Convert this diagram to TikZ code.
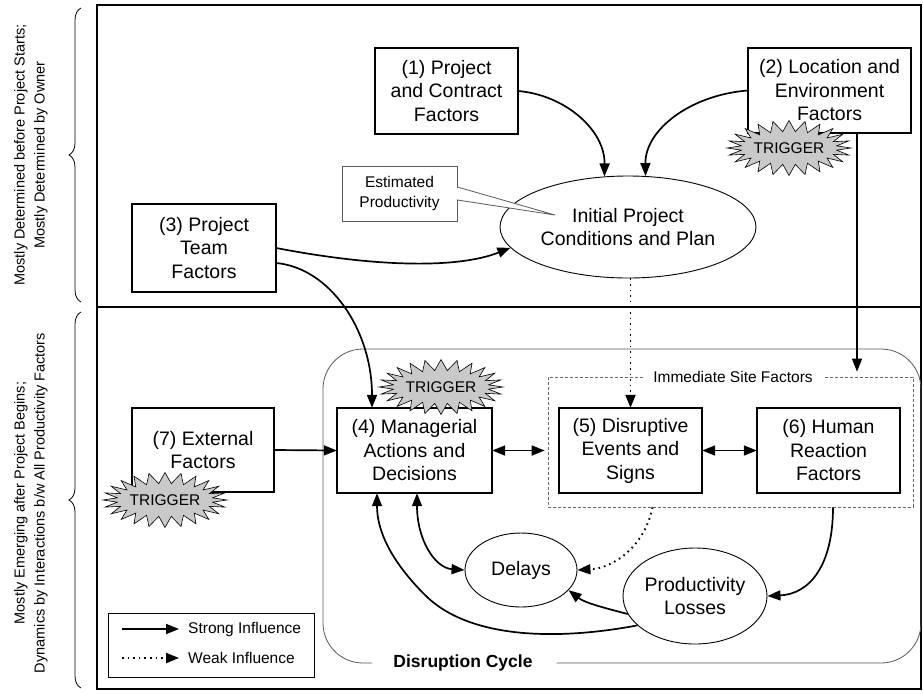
\documentclass[tikz,border=0pt]{standalone}
\usepackage{fontspec}
\setmainfont{Liberation Sans}
\usetikzlibrary{arrows.meta,decorations.pathreplacing,shapes.geometric,calc}

% box frames sit below the starbursts, which sit below all text
\pgfdeclarelayer{frames}
\pgfdeclarelayer{bursts}
\pgfsetlayers{frames,bursts,main}

% starburst with a label at its centre
\newcommand\burstat[2]{%
  \begin{scope}[shift={#1}]
    \begin{pgfonlayer}{bursts}
      \draw[burst] plot[samples at={0,7.5,...,352.5}]
        ({(62-14*mod(round(\x/7.5),2))*cos(\x)},{(27.5-11*mod(round(\x/7.5),2))*sin(\x)}) -- cycle;
    \end{pgfonlayer}
    \node[small, inner sep=0pt] (#2) at (0,0) {TRIGGER};
  \end{scope}}

\begin{document}
\begin{tikzpicture}[x=1pt,y=-1pt,
  boxtext/.style={align=center, inner sep=0pt, font=\fontsize{19.5}{23.5}\selectfont},
  frame/.style={draw, line width=2pt},
  oval/.style={ellipse, draw, line width=0.9pt, inner sep=0pt, align=center,
    font=\fontsize{19.5}{23.5}\selectfont},
  strong/.style={line width=1.7pt, -{Triangle[length=13pt,width=10pt]}},
  both/.style={line width=1.7pt, {Triangle[length=13pt,width=10pt]}-{Triangle[length=13pt,width=10pt]}},
  weak/.style={line width=1.9pt, dash pattern=on 1.6pt off 4pt, -{Triangle[length=13pt,width=10pt]}},
  small/.style={font=\fontsize{15.5}{20}\selectfont},
  burst/.style={draw, line width=0.6pt, fill=gray!42},
  thin gray/.style={draw=black!65, line width=0.8pt},
]
\useasboundingbox (0,0) rectangle (923,694);

% outer frame and the divider between the two phases
\draw[line width=1.3pt] (97,5) rectangle (921,689);
\draw[line width=1.3pt] (97,307) -- (921,307);

% side notes with braces
\draw[line width=0.8pt, decorate, decoration={brace, amplitude=12pt}] (81,302) -- (81,8);
\draw[line width=0.8pt, decorate, decoration={brace, amplitude=12pt}] (81,688) -- (81,312);
\node[rotate=90, align=center, font=\fontsize{14.5}{20}\selectfont] (topnote) at (31,155)
  {Mostly Determined before Project Starts;\\Mostly Determined by Owner};
\node[rotate=90, align=center, font=\fontsize{14.5}{20}\selectfont] (botnote) at (31,503)
  {Mostly Emerging after Project Begins;\\Dynamics by Interactions b/w All Productivity Factors};

% disruption cycle outline
\node[font=\bfseries\fontsize{17.5}{20}\selectfont, inner sep=0pt] (cyc) at (463,663) {Disruption Cycle};
\draw[thin gray, rounded corners=40pt] ([xshift=24pt]cyc.east) -- (921,663) -- (921,349)
  -- (323,349) -- (323,663) -- (372,663);

% immediate site factors group
\node[draw=black!60, dash pattern=on 3pt off 2pt, line width=0.7pt, minimum width=365pt,
  minimum height=130pt, inner sep=0pt] (site) at (730.5,442) {};
\node[small, fill=white, inner xsep=10pt, inner ysep=2pt] (sitelbl) at (733,377) {Immediate Site Factors};

% factor boxes
\node[boxtext, minimum width=143pt, minimum height=86pt] (n1) at (446.5,91) {(1) Project\\and Contract\\Factors};
\node[boxtext, minimum width=163pt, minimum height=85pt] (n2) at (829.5,90.5) {(2) Location and\\Environment\\Factors};
\node[boxtext, minimum width=144pt, minimum height=88pt] (n3) at (204,248) {(3) Project\\Team\\Factors};
\node[boxtext, minimum width=155pt, minimum height=85pt] (n4) at (414.5,450.5) {(4) Managerial\\Actions and\\Decisions};
\node[boxtext, minimum width=143pt, minimum height=85pt] (n5) at (630.5,450.5) {(5) Disruptive\\Events and\\Signs};
\node[boxtext, minimum width=143pt, minimum height=85pt] (n6) at (828.5,450.5) {(6) Human\\Reaction\\Factors};
\node[boxtext, minimum width=142pt, minimum height=84pt] (n7) at (203,450) {(7) External\\Factors};
\begin{pgfonlayer}{frames}
  \foreach \b in {n1,n2,n3,n4,n5,n6,n7}
    \draw[frame] (\b.south west) rectangle (\b.north east);
\end{pgfonlayer}

% triggers
\burstat{(789,148)}{trig2}
\burstat{(441,387)}{trig4}
\burstat{(165,500)}{trig7}

% ovals
\node[oval, minimum width=256pt, minimum height=102pt] (plan) at (628,227) {Initial Project\\Conditions and Plan};
\node[oval, minimum width=112pt, minimum height=74pt] (delays) at (521,570) {Delays};
\node[oval, minimum width=144pt, minimum height=96pt] (losses) at (695,596) {Productivity\\Losses};

% callout
\node[thin gray, minimum width=115pt, minimum height=55pt, inner sep=0pt, align=center, small]
  (est) at (399.5,193.5) {Estimated\\Productivity};
\coordinate (esttip) at (555,215);
\fill[white] ([xshift=-0.8pt,yshift=6pt]est.east) -- (esttip) -- ([xshift=-0.8pt,yshift=-6pt]est.east) -- cycle;
\draw[black!65, line width=0.8pt] ([yshift=6.5pt]est.east) -- (esttip) -- ([yshift=-6.5pt]est.east);

% influences
\draw[strong] (n1.east) .. controls (565,95) and (605,130) .. (plan.115);
\draw[strong] (n2.west) .. controls (690,95) and (645,130) .. (plan.71);
\draw[strong] (n3.east) .. controls (380,268) and (460,268) .. (plan.190);
\draw[strong] ([yshift=-15pt]n3.east) .. controls (330,268) and (372,330) .. ([xshift=-42.5pt]n4.north);
\draw[strong] (n7.east) -- (n4.west);
\draw[both, shorten >=3pt] (n4.east) -- (n4.east -| site.west);
\draw[both] (n5.east) -- (n6.west);
\coordinate (drop) at (857,0);
\draw[strong] (drop |- n2.south) -- ([yshift=5pt]drop |- site.north);
\draw[weak] (n5.north |- plan.south) -- (n5.north);
\draw[strong] ([xshift=4.5pt]n6.south |- site.south) .. controls (833,565) and (810,594) .. (losses.east);
\draw[weak] ([xshift=-78pt]site.south) .. controls (645,545) and (615,568) .. (delays.east);
\draw[strong] (losses.195) .. controls (605,608) and (585,603) .. (delays.-23);
\draw[strong] (losses.207) .. controls (560,640) and (470,640) .. (425,595)
  .. controls (390,560) and (377,530) .. ([xshift=-37.5pt]n4.south);
\draw[both] ([xshift=2.5pt]n4.south) .. controls (417,540) and (435,568) .. (delays.west);

% legend
\node[draw, line width=0.9pt, minimum width=206pt, minimum height=64pt, inner sep=0pt] (legend) at (211,645) {};
\coordinate (s0) at (122,629); \coordinate (s1) at (179,629);
\coordinate (w0) at (122,658); \coordinate (w1) at (179,658);
\draw[strong] (s0) -- (s1);
\draw[weak] (w0) -- (w1);
\node[small, anchor=west, inner sep=0pt] (slbl) at (188,629) {Strong Influence};
\node[small, anchor=west, inner sep=0pt] (wlbl) at (188,658) {Weak Influence};
\end{tikzpicture}
\end{document}
